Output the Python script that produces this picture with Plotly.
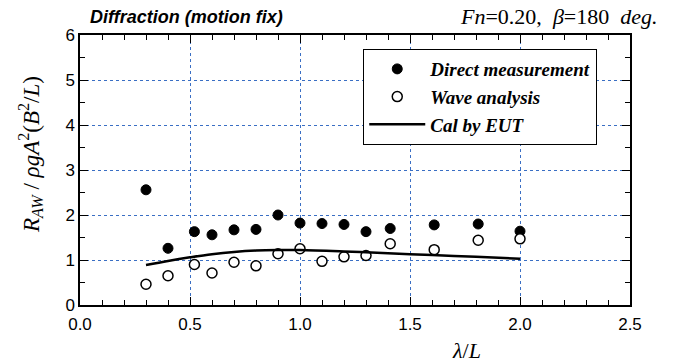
import plotly.graph_objects as go

# Direct measurement (filled)
direct_x = [0.30, 0.40, 0.52, 0.60, 0.70, 0.80, 0.90, 1.00, 1.10, 1.20, 1.30, 1.41, 1.61, 1.81, 2.00]
direct_y = [2.56, 1.26, 1.63, 1.56, 1.67, 1.68, 2.00, 1.82, 1.81, 1.79, 1.63, 1.70, 1.78, 1.80, 1.64]

# Wave analysis (open)
wave_x = [0.30, 0.40, 0.52, 0.60, 0.70, 0.80, 0.90, 1.00, 1.10, 1.20, 1.30, 1.41, 1.61, 1.81, 2.00]
wave_y = [0.46, 0.65, 0.90, 0.71, 0.95, 0.87, 1.14, 1.25, 0.97, 1.07, 1.10, 1.36, 1.23, 1.44, 1.47]

# Cal by EUT (line)
eut_x = [0.30, 0.40, 0.50, 0.60, 0.70, 0.80, 0.90, 1.00, 1.20, 1.40, 1.60, 1.80, 2.00]
eut_y = [0.89, 0.98, 1.06, 1.13, 1.18, 1.21, 1.22, 1.22, 1.19, 1.15, 1.11, 1.07, 1.03]

x_ticks = [0.0, 0.5, 1.0, 1.5, 2.0, 2.5]
x_ticklabels = ["0.0", "0.5", "1.0", "1.5", "2.0", "2.5"]
y_ticks = [0, 1, 2, 3, 4, 5, 6]

SERIF = "Liberation Serif"
SANS = "Liberation Sans"

fig = go.Figure()
fig.add_trace(go.Scatter(x=direct_x, y=direct_y, mode="markers",
                         name="<b><i>Direct measurement</i></b>",
                         marker=dict(symbol="circle", size=10, color="black",
                                     line=dict(color="black", width=1))))
fig.add_trace(go.Scatter(x=wave_x, y=wave_y, mode="markers",
                         name="<b><i>Wave analysis</i></b>",
                         marker=dict(symbol="circle", size=10, color="white",
                                     line=dict(color="black", width=1.5))))
fig.add_trace(go.Scatter(x=eut_x, y=eut_y, mode="lines",
                         name="<b><i>Cal by EUT</i></b>",
                         line=dict(color="black", width=2.5, shape="spline")))

grid = dict(showgrid=True, gridcolor="#3a6fc4", gridwidth=1, griddash="dot")
fig.update_xaxes(range=[0, 2.5], tickvals=x_ticks, ticktext=x_ticklabels,
                 ticks="inside", ticklen=8, tickwidth=1, tickcolor="black",
                 showline=True, linecolor="black", linewidth=1.5, mirror="allticks",
                 zeroline=False, ticklabelstandoff=3,
                 minor=dict(dtick=0.1, ticks="inside", ticklen=5, tickcolor="black", showgrid=False),
                 tickfont=dict(family=SANS, size=17, color="black"),
                 **grid)
fig.update_yaxes(range=[0, 6], tickvals=y_ticks,
                 ticks="inside", ticklen=8, tickwidth=1, tickcolor="black",
                 showline=True, linecolor="black", linewidth=1.5, mirror="allticks",
                 zeroline=False,
                 minor=dict(dtick=0.5, ticks="inside", ticklen=5, tickcolor="black", showgrid=False),
                 tickfont=dict(family=SANS, size=17, color="black"),
                 **grid)

PL, PW, PT, PH = 80, 550, 35, 270  # plot-area geometry in pixels (for paper-relative text placement)

fig.update_layout(
    width=675, height=363,
    margin=dict(l=PL, r=675 - PL - PW, t=PT, b=363 - PT - PH),
    paper_bgcolor="white", plot_bgcolor="white",
    showlegend=True,
    legend=dict(x=0.515, y=0.948, xanchor="left", yanchor="top",
                bgcolor="white", bordercolor="black", borderwidth=1,
                font=dict(family=SERIF, size=19, color="black"),
                tracegroupgap=0, itemwidth=56),
    annotations=[
        dict(text="<b><i>Diffraction (motion fix)</i></b>", xref="paper", yref="paper",
             x=(88 - PL) / PW, y=1.0, xanchor="left", yanchor="bottom", yshift=6, showarrow=False,
             font=dict(family=SANS, size=18, color="black")),
        dict(text="<i>Fn</i>=0.20,  <i>β</i>=180  <i>deg.</i>", xref="paper", yref="paper",
             x=(660 - PL) / PW, y=1.0, xanchor="right", yanchor="bottom", yshift=4, showarrow=False,
             font=dict(family=SERIF, size=22, color="black")),
        dict(text="<i>λ</i>/<i>L</i>", xref="paper", yref="paper",
             x=(466 - PL) / PW, y=(PT + PH - 350) / PH, xanchor="center", yanchor="middle",
             showarrow=False, font=dict(family=SERIF, size=22, color="black")),
        dict(text="<i>R</i><sub><i>AW</i></sub> / <i>ρgA</i><sup>2</sup>(<i>B</i><sup>2</sup>/<i>L</i>)",
             xref="paper", yref="paper", textangle=-90,
             x=(30 - PL) / PW, y=(PT + PH - 155) / PH, xanchor="center", yanchor="middle",
             showarrow=False, font=dict(family=SERIF, size=23, color="black")),
    ],
)

fig.write_html("out.html")
